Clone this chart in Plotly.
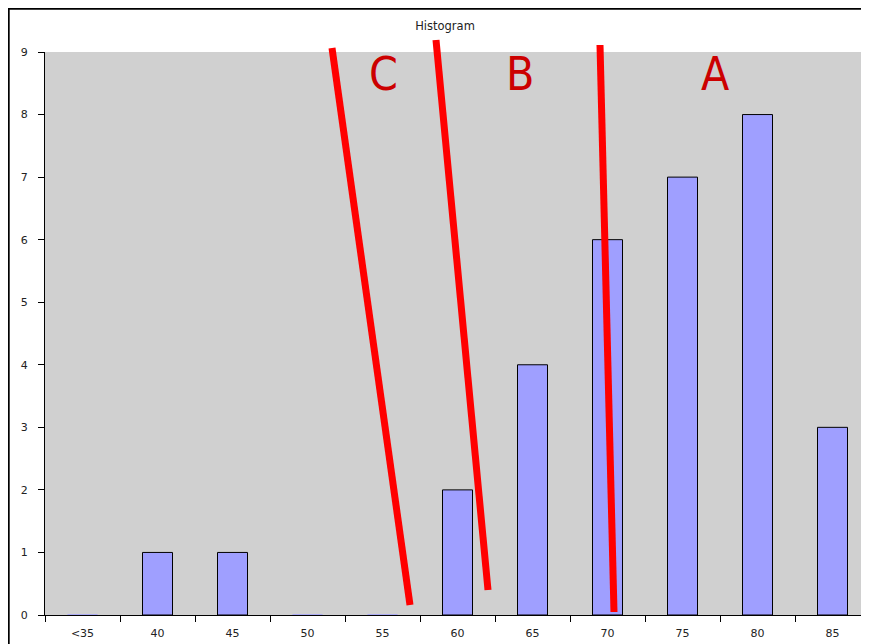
import plotly.graph_objects as go

categories = ["<35", "40", "45", "50", "55", "60", "65", "70", "75", "80", "85"]
counts = [0, 1, 1, 0, 0, 2, 4, 6, 7, 8, 3]
y_ticks = list(range(0, 10))
grade_labels = ["C", "B", "A"]

# the page places the figure 8px in from the window's corner
OFF = 8
W, H = 869 - OFF, 644 - OFF
L, T = 45 - OFF, 52 - OFF
R = 0
B = H - (615 - OFF)
pw, ph = W - L - R, H - T - B

def px(x):
    return (x - OFF - L) / pw

def py(y):
    return (H - B - (y - OFF)) / ph

line_colors = ["#9f9fff" if v == 0 else "#000000" for v in counts]

fig = go.Figure()
fig.add_trace(go.Bar(
    x=categories, y=counts, width=0.4,
    marker=dict(color="#9f9fff", line=dict(color=line_colors, width=1)),
    showlegend=False, hoverinfo="skip",
))

shapes = [
    # frame: top and left edges of the page border
    dict(type="line", xref="paper", yref="paper", x0=px(8), x1=px(869), y0=py(8.8), y1=py(8.8),
         line=dict(color="black", width=1.8), layer="above"),
    dict(type="line", xref="paper", yref="paper", x0=px(8.8), x1=px(8.8), y0=py(8), y1=py(644),
         line=dict(color="black", width=1.8), layer="above"),
]
red_lines = [((332, 48), (410, 605)), ((436, 40), (488, 590)), ((600, 45), (614, 612))]
for (a, b) in red_lines:
    shapes.append(dict(type="line", xref="paper", yref="paper",
                       x0=px(a[0]), y0=py(a[1]), x1=px(b[0]), y1=py(b[1]),
                       line=dict(color="#ff0000", width=7), layer="above"))

letter_pos = [(383, 74), (520, 74), (715, 74)]
annotations = []
for lab, (x, y) in zip(grade_labels, letter_pos):
    annotations.append(dict(text=lab, xref="paper", yref="paper", x=px(x), y=py(y),
                            xanchor="center", yanchor="middle", showarrow=False,
                            font=dict(family="Liberation Sans Narrow, DejaVu Sans Condensed, Arial Narrow, sans-serif",
                                      size=46, color="#cc0000")))

fig.update_layout(
    width=W, height=H,
    margin=dict(l=L, r=R, t=T, b=B, pad=0),
    paper_bgcolor="white", plot_bgcolor="#d0d0d0",
    title=dict(text="Histogram", x=(445 - OFF) / W, y=1 - (26 - OFF) / H, xanchor="center", yanchor="middle",
               font=dict(family="DejaVu Sans, sans-serif", size=11.5, color="#222")),
    font=dict(family="DejaVu Sans, sans-serif", size=11, color="#222"),
    shapes=shapes, annotations=annotations,
)
fig.update_xaxes(
    range=[-0.5, -0.5 + pw / 75], showgrid=False, zeroline=False,
    showline=True, linecolor="black", linewidth=1,
    ticks="outside", ticklen=6, tickcolor="black", tickson="boundaries",
    ticklabelstandoff=8, fixedrange=True,
)
fig.update_yaxes(
    range=[0, 9], tickvals=y_ticks, showgrid=False, zeroline=False,
    showline=True, linecolor="black", linewidth=1,
    ticks="outside", ticklen=6, tickcolor="black", ticklabelstandoff=8,
    fixedrange=True,
)
fig.write_html(
    "out.html",
    config={"displayModeBar": False},
    post_script="document.documentElement.style.overflow='hidden';document.body.style.overflow='hidden';",
)
